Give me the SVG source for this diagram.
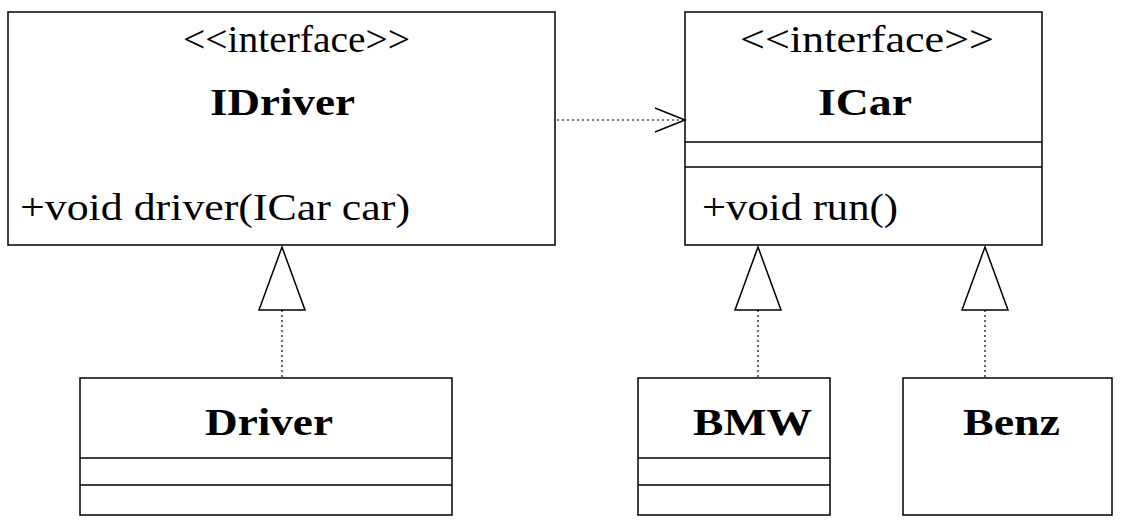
<svg xmlns="http://www.w3.org/2000/svg" width="1126" height="522" viewBox="0 0 1126 522">
<style>
.b{fill:#fff;stroke:#000;stroke-width:1.5}
.l{stroke:#000;stroke-width:1.5}
.d{stroke:#000;stroke-width:1.2;stroke-dasharray:2 3;fill:none}
.t{font-family:"Liberation Serif",serif;font-size:37px;fill:#000}
.h{font-family:"Liberation Serif",serif;font-size:38px;font-weight:bold;fill:#000}
.tri{fill:#fff;stroke:#000;stroke-width:1.5}
</style>
<rect width="1126" height="522" fill="#fff"/>
<g id="IDriver"><rect class="b" x="8" y="12" width="547" height="233"/>
<text class="t" x="183" y="52" textLength="227" lengthAdjust="spacingAndGlyphs">&lt;&lt;interface&gt;&gt;</text>
<text class="h" x="210" y="115" textLength="145" lengthAdjust="spacingAndGlyphs">IDriver</text>
<text class="t" x="20" y="220" textLength="390" lengthAdjust="spacingAndGlyphs">+void driver(ICar car)</text></g>
<g id="ICar"><rect class="b" x="685" y="12" width="357" height="233"/>
<line class="l" x1="685" y1="142" x2="1042" y2="142"/><line class="l" x1="685" y1="167" x2="1042" y2="167"/>
<text class="t" x="740" y="52" textLength="254" lengthAdjust="spacingAndGlyphs">&lt;&lt;interface&gt;&gt;</text>
<text class="h" x="818" y="115" textLength="94" lengthAdjust="spacingAndGlyphs">ICar</text>
<text class="t" x="702" y="220" textLength="196" lengthAdjust="spacingAndGlyphs">+void run()</text></g>
<g id="Driver"><rect class="b" x="80" y="378" width="372" height="137"/>
<line class="l" x1="80" y1="458" x2="452" y2="458"/><line class="l" x1="80" y1="485" x2="452" y2="485"/>
<text class="h" x="205" y="435" textLength="128" lengthAdjust="spacingAndGlyphs">Driver</text></g>
<g id="BMW"><rect class="b" x="638" y="378" width="192" height="137"/>
<line class="l" x1="638" y1="458" x2="830" y2="458"/><line class="l" x1="638" y1="485" x2="830" y2="485"/>
<text class="h" x="693" y="435" textLength="119" lengthAdjust="spacingAndGlyphs">BMW</text></g>
<g id="Benz"><rect class="b" x="903" y="378" width="209" height="137"/>
<text class="h" x="963" y="435" textLength="97" lengthAdjust="spacingAndGlyphs">Benz</text></g>
<g id="connectors">
<line class="d" x1="557" y1="120" x2="683" y2="120"/>
<polyline points="655,108 685,120 655,132" fill="none" stroke="#000" stroke-width="1.5"/>
<line class="d" x1="282" y1="310" x2="282" y2="378"/>
<polygon class="tri" points="282,247 259,310 305,310"/>
<line class="d" x1="758" y1="310" x2="758" y2="378"/>
<polygon class="tri" points="758,247 735,310 781,310"/>
<line class="d" x1="985" y1="310" x2="985" y2="378"/>
<polygon class="tri" points="985,247 962,310 1008,310"/>
</g>
</svg>
